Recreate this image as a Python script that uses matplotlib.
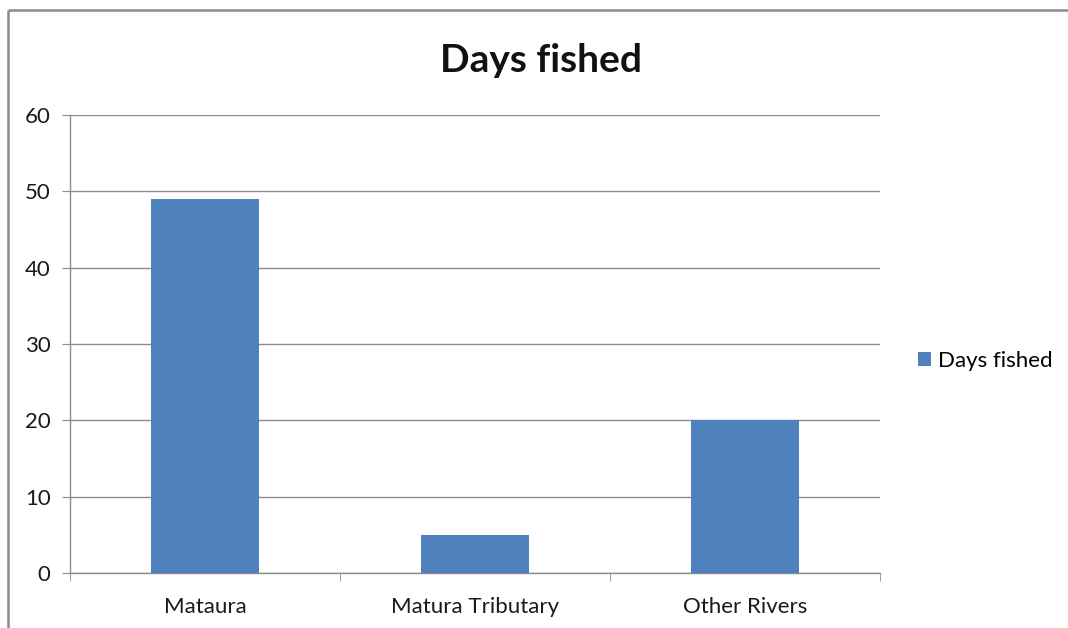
import matplotlib
matplotlib.use("Agg")
import matplotlib.pyplot as plt
from matplotlib.lines import Line2D
from matplotlib.patches import Patch

categories = ["Mataura", "Matura Tributary", "Other Rivers"]
days_fished = [49, 5, 20]
series_name = "Days fished"
title = "Days fished"

plt.rcParams['font.family'] = ['Lato', 'DejaVu Sans']

W, H = 1068, 628
fig = plt.figure(figsize=(W / 100, H / 100), dpi=100)
fig.patch.set_facecolor('white')

# outer chart border (top and left edges visible; others are outside the image)
border_kw = dict(transform=fig.transFigure, color='#8c8c8c', linewidth=1.8, solid_capstyle='butt')
fig.add_artist(Line2D([8 / W, 1.05], [1 - 10 / H, 1 - 10 / H], **border_kw))
fig.add_artist(Line2D([8 / W, 8 / W], [-0.05, 1 - 10 / H], **border_kw))

ax = fig.add_axes([70 / W, 1 - 573 / H, (880 - 70) / W, (573 - 115) / H])
x = list(range(len(categories)))
ax.bar(x, days_fished, width=0.4, color='#4f81bd', zorder=3)
ax.set_xlim(-0.5, len(categories) - 0.5)
ax.set_ylim(0, 60)
ax.set_yticks(range(0, 61, 10))
ax.yaxis.grid(True, color='#8c8c8c', linewidth=1.0, zorder=0)
ax.set_xticks(x)
ax.set_xticklabels(categories)
ax.set_xticks([i - 0.5 for i in range(len(categories) + 1)], minor=True)
ax.tick_params(axis='x', which='major', length=0, pad=17, labelsize=16, labelcolor='#1a1a1a')
ax.tick_params(axis='x', which='minor', length=6, color='#8c8c8c', direction='out')
ax.tick_params(axis='y', length=6, color='#8c8c8c', direction='out', labelsize=16, pad=8,
               labelcolor='#1a1a1a')
for s in ['top', 'right']:
    ax.spines[s].set_visible(False)
for s in ['left', 'bottom']:
    ax.spines[s].set_color('#8c8c8c')
    ax.spines[s].set_linewidth(1.0)

fig.text(541 / W, 1 - 60 / H, title, ha='center', va='center', fontsize=28, fontweight='bold', color='#111111')

fig.legend(handles=[Patch(facecolor='#4f81bd', label=series_name)], loc='center left',
           bbox_to_anchor=(907 / W, 1 - 361 / H), frameon=False, fontsize=16,
           handlelength=0.6, handleheight=0.6, handletextpad=0.3, borderpad=0)

fig.savefig('out.png', dpi=100, facecolor='white')
